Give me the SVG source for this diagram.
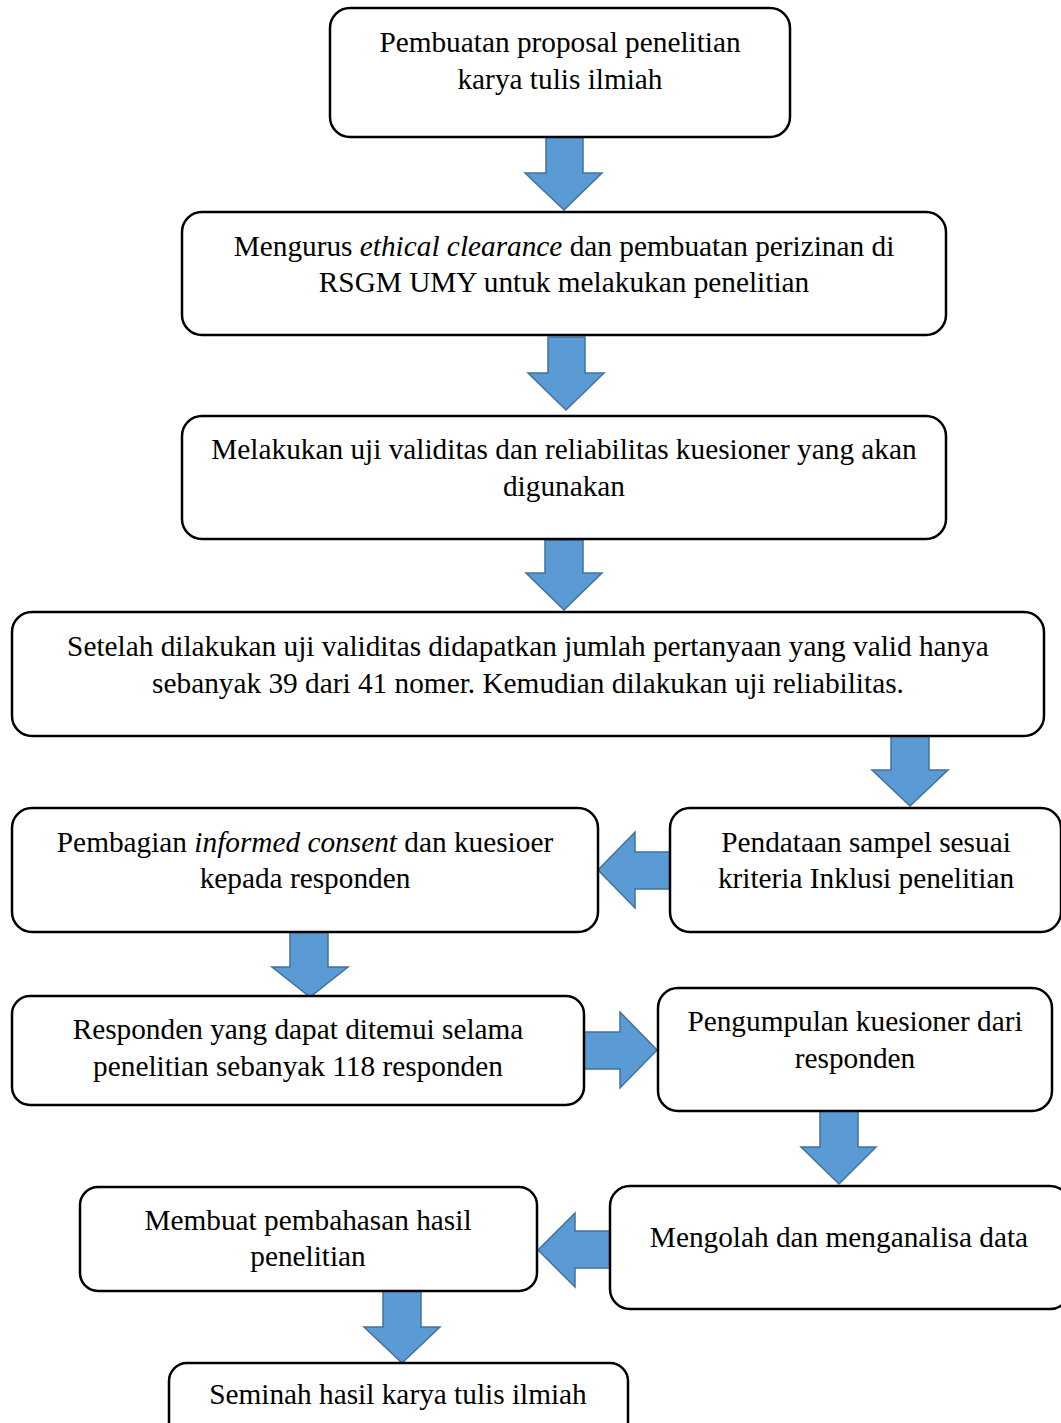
<svg xmlns="http://www.w3.org/2000/svg" width="1061" height="1423" viewBox="0 0 1061 1423">
<style>
.box{fill:#fff;stroke:#000;stroke-width:2.5}
.arr{fill:#5b9bd5;stroke:#41719c;stroke-width:1.5;stroke-linejoin:miter}
text{font-family:"Liberation Serif","Times New Roman",serif;font-size:29.3px;fill:#000;text-anchor:middle}
</style>
<rect width="1061" height="1423" fill="#fff"/>
<g id="connectors">
<path class="arr" d="M546,137 H583 V173 H602 L564,210 L525,173 H546 Z"/>
<path class="arr" d="M548,337 H585 V373 H604 L566,410 L528,373 H548 Z"/>
<path class="arr" d="M545,540 H583 V573 H602 L564,610 L526,573 H545 Z"/>
<path class="arr" d="M891,736 H929 V770 H948 L910,806 L872,770 H891 Z"/>
<path class="arr" d="M670,852 V889 H635 V908 L598,870 L635,832 V852 Z"/>
<path class="arr" d="M290,932 H328 V967 H348 L310,997 L272,967 H290 Z"/>
<path class="arr" d="M584,1032 H620 V1012 L657,1050 L620,1088 V1069 H584 Z"/>
<path class="arr" d="M820,1111 H858 V1147 H876 L839,1184 L801,1147 H820 Z"/>
<path class="arr" d="M610,1231 V1268 H575 V1287 L538,1250 L575,1213 V1231 Z"/>
<path class="arr" d="M383,1291 H421 V1327 H440 L402,1363 L364,1327 H383 Z"/>
</g>
<g id="n1"><rect class="box" x="330" y="8" width="460" height="129" rx="20"/>
<text x="560" y="52">Pembuatan proposal penelitian</text><text x="560" y="89">karya tulis ilmiah</text></g>
<g id="n2"><rect class="box" x="182" y="212" width="764" height="123" rx="20"/>
<text x="564" y="256">Mengurus <tspan font-style="italic">ethical clearance</tspan> dan pembuatan perizinan di</text><text x="564" y="292">RSGM UMY untuk melakukan penelitian</text></g>
<g id="n3"><rect class="box" x="182" y="416" width="764" height="123" rx="20"/>
<text x="564" y="459">Melakukan uji validitas dan reliabilitas kuesioner yang akan</text><text x="564" y="496">digunakan</text></g>
<g id="n4"><rect class="box" x="12" y="612" width="1032" height="124" rx="20"/>
<text x="528" y="656">Setelah dilakukan uji validitas didapatkan jumlah pertanyaan yang valid hanya</text><text x="528" y="693">sebanyak 39 dari 41 nomer. Kemudian dilakukan uji reliabilitas.</text></g>
<g id="n5"><rect class="box" x="670" y="808" width="391" height="124" rx="20"/>
<text x="866" y="852">Pendataan sampel sesuai</text><text x="866" y="888">kriteria Inklusi penelitian</text></g>
<g id="n6"><rect class="box" x="12" y="808" width="586" height="124" rx="20"/>
<text x="305" y="852">Pembagian <tspan font-style="italic">informed consent</tspan> dan kuesioer</text><text x="305" y="888">kepada responden</text></g>
<g id="n7"><rect class="box" x="12" y="996" width="572" height="109" rx="18"/>
<text x="298" y="1039">Responden yang dapat ditemui selama</text><text x="298" y="1076">penelitian sebanyak 118 responden</text></g>
<g id="n8"><rect class="box" x="658" y="988" width="394" height="123" rx="20"/>
<text x="855" y="1031">Pengumpulan kuesioner dari</text><text x="855" y="1068">responden</text></g>
<g id="n9"><rect class="box" x="610" y="1186" width="460" height="123" rx="20"/>
<text x="839" y="1247">Mengolah dan menganalisa data</text></g>
<g id="n10"><rect class="box" x="80" y="1187" width="457" height="104" rx="18"/>
<text x="308" y="1230">Membuat pembahasan hasil</text><text x="308" y="1266">penelitian</text></g>
<g id="n11"><rect class="box" x="169" y="1363" width="459" height="100" rx="18"/>
<text x="398" y="1404">Seminah hasil karya tulis ilmiah</text></g>
</svg>
